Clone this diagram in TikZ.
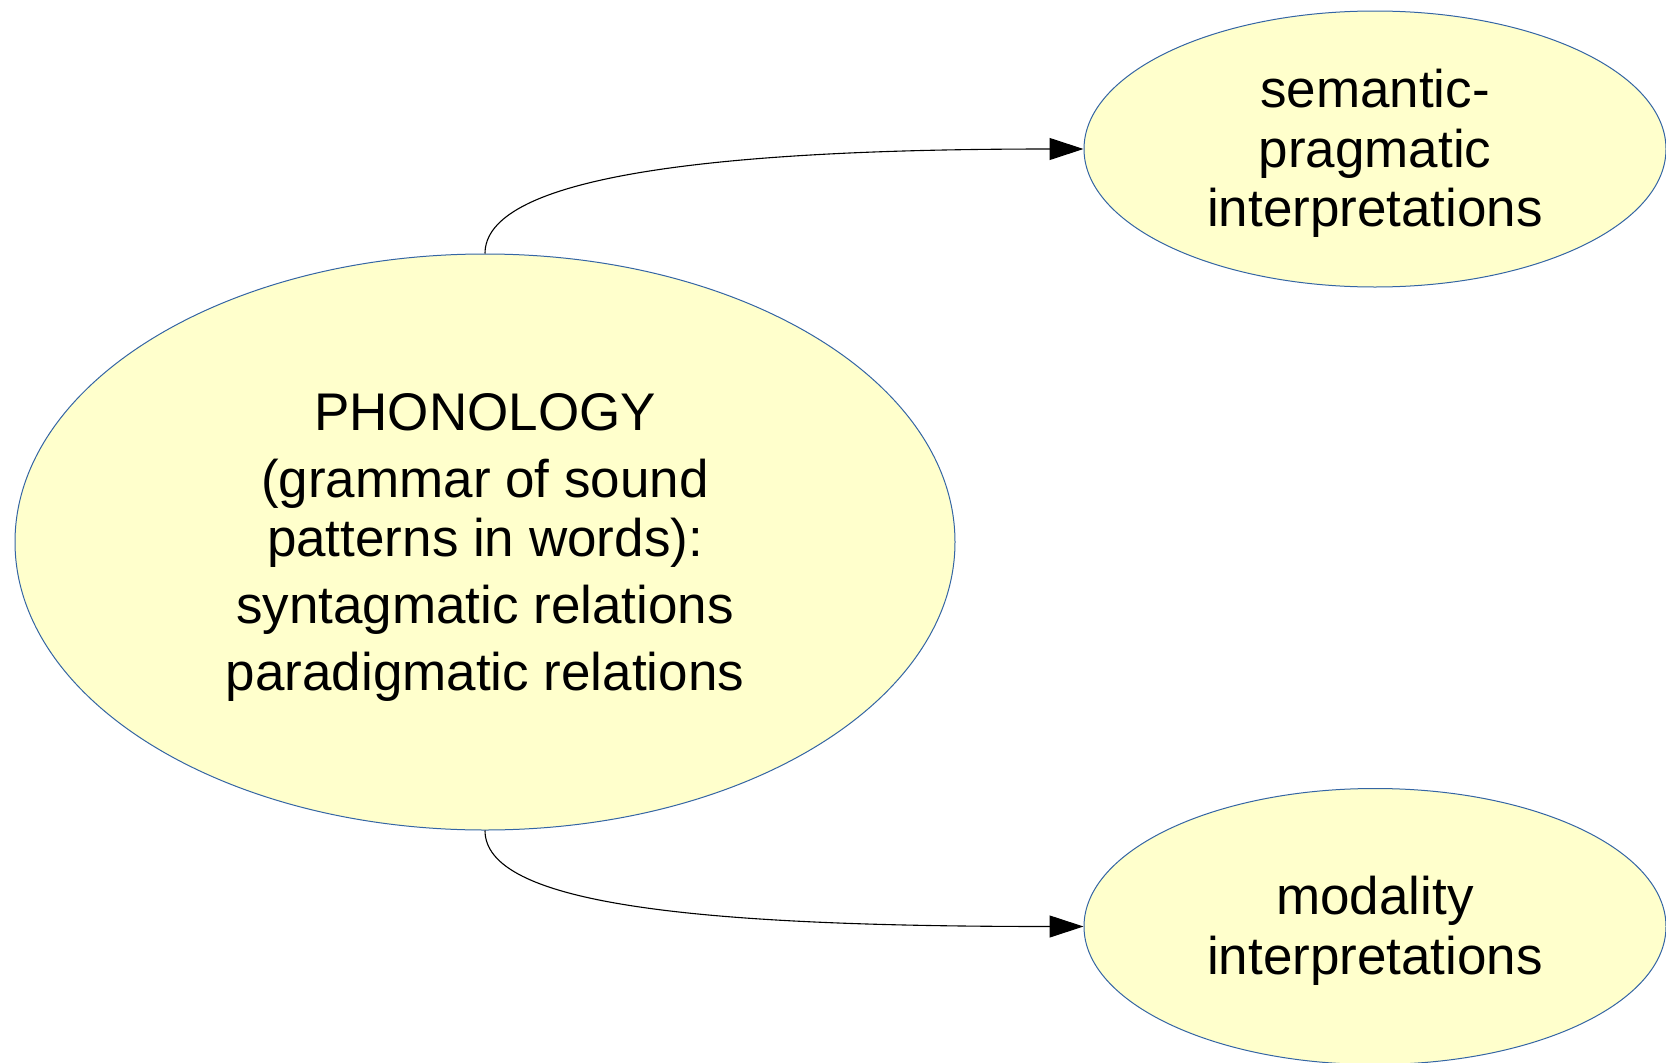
\documentclass[tikz,border=0pt]{standalone}
\usepackage{fontspec}
\setmainfont{Liberation Sans}
\usetikzlibrary{arrows.meta,calc,shapes.geometric}
\definecolor{bubblefill}{HTML}{FFFFCC}
\definecolor{bubbleline}{HTML}{3465A4}
\begin{document}
\begin{tikzpicture}[x=1pt,y=-1pt,
  bubble/.style={ellipse,draw=bubbleline,fill=bubblefill,line width=1pt,inner sep=0pt},
  caption/.style={inner sep=0pt,align=center,font=\fontsize{53}{59.5}\selectfont},
  link/.style={draw=black,line width=1.1pt,-{Triangle[length=34pt,width=22pt]}}]
  \useasboundingbox (0,0) rectangle (1666,1063);
  % main node
  \node[bubble,minimum width=940,minimum height=576] (phon) at (485,542) {};
  \node[caption] (phontext) at ([yshift=-5.5pt]phon.center)
    {PHONOLOGY\\[7.5pt](grammar of sound\\patterns in words):\\[7.5pt]syntagmatic relations\\[7.5pt]paradigmatic relations};
  % interpretation nodes
  \node[bubble,minimum width=582,minimum height=276] (sem) at (1375,149) {};
  \node[caption] (semtext) at ([yshift=-4.5pt]sem.center)
    {semantic-\\pragmatic\\interpretations};
  \node[bubble,minimum width=582,minimum height=276] (mod) at (1375,926.5) {};
  \node[caption] (modtext) at ([yshift=-4.5pt]mod.center)
    {modality\\interpretations};
  % connectors
  \draw[link] (phon.north) .. controls ($(phon.north)+(0,-73)$) and ($(sem.west)+(-394,0)$) .. (sem.west);
  \draw[link] (phon.south) .. controls ($(phon.south)+(0,73)$) and ($(mod.west)+(-394,0)$) .. (mod.west);
\end{tikzpicture}
\end{document}
